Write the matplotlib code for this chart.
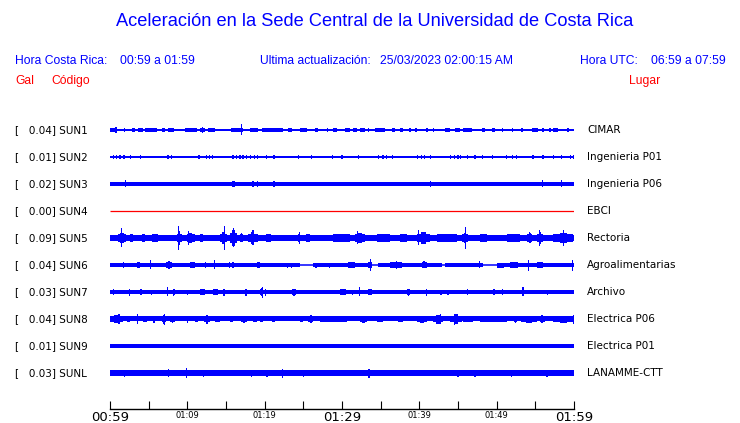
import numpy as np
import matplotlib
matplotlib.use("Agg")
import matplotlib.pyplot as plt
from matplotlib import font_manager, transforms

# station rows, top to bottom
codes = ["SUN1", "SUN2", "SUN3", "SUN4", "SUN5", "SUN6", "SUN7", "SUN8", "SUN9", "SUNL"]
places = ["CIMAR", "Ingenieria P01", "Ingenieria P06", "EBCI", "Rectoria",
          "Agroalimentarias", "Archivo", "Electrica P06", "Electrica P01", "LANAMME-CTT"]
peaks = [0.04, 0.01, 0.02, 0.00, 0.09, 0.04, 0.03, 0.04, 0.01, 0.03]  # Gal

# background noise level of each trace (display counts)
noise = [0.7, 0.6, 2.0, 0.0, 2.8, 1.8, 2.1, 2.5, 1.6, 2.8]

# minutes after 00:59 where SUN6 drops to a bare line
quiet_sun6 = [(24.6, 26.3), (33.9, 34.7), (42.9, 43.3), (48.2, 50.0)]

# bursts: (start minute, end minute, half amplitude in counts)
sun1 = [(0.0, 0.65, 1.8), (0.78, 0.78, 3.0), (1.85, 2.0, 1.8), (2.8, 3.2, 1.8), (3.6, 4.3, 1.8),
        (4.5, 6.1, 1.8), (6.7, 7.1, 1.8), (7.5, 8.3, 1.8), (9.7, 11.2, 1.8), (11.6, 12.3, 1.8),
        (12.0, 12.0, 3.0), (12.7, 13.6, 1.8), (15.6, 17.2, 1.8), (17.0, 17.0, 5.5), (18.1, 19.1, 1.8),
        (19.7, 22.4, 1.8), (23.0, 23.5, 1.8), (24.6, 25.5, 1.8), (26.5, 26.9, 1.8), (28.0, 28.2, 1.8),
        (28.8, 29.4, 1.8), (30.4, 31.0, 1.8), (31.4, 31.9, 1.8), (32.3, 33.0, 1.8), (33.4, 33.4, 1.8),
        (34.3, 35.6, 1.8), (36.5, 36.9, 1.8), (37.5, 37.9, 1.8), (38.8, 38.8, 1.8), (39.5, 39.7, 1.8),
        (41.0, 41.0, 1.8), (41.8, 41.8, 1.8), (43.3, 44.0, 1.8), (44.6, 45.3, 1.8), (45.6, 46.8, 1.8),
        (48.1, 48.5, 1.8), (49.4, 49.8, 1.8), (50.8, 50.8, 1.8), (52.1, 52.1, 1.8), (53.2, 53.4, 1.8),
        (54.6, 55.3, 1.8), (56.0, 56.0, 1.8), (56.9, 56.9, 1.8), (57.3, 57.9, 1.8), (59.1, 59.3, 1.8)]
sun2_times = [0.4, 0.8, 1.3, 1.7, 1.9, 2.6, 3.9, 7.5, 8.0, 11.4, 11.6, 12.5, 12.9, 13.3, 15.9,
              16.4, 16.8, 17.2, 17.6, 18.2, 18.7, 19.1, 20.2, 21.1, 21.3, 24.4, 26.1, 28.8, 29.9,
              30.0, 32.1, 34.7, 35.2, 35.3, 35.8, 36.5, 39.8, 40.3, 40.7, 41.4, 44.0, 44.6, 45.0,
              45.3, 46.2, 47.2, 48.2, 49.5, 51.3, 52.1, 52.6, 54.7, 56.0, 57.3, 58.4, 59.5, 59.9]
sun2 = [(t, t, 1.8) for t in sun2_times]
sun3 = [(2.0, 2.0, 3.5), (15.8, 16.1, 2.8), (18.4, 18.6, 2.8), (19.0, 19.2, 3.0), (21.2, 21.2, 3.0),
        (41.4, 41.4, 2.8), (55.9, 55.9, 3.5), (58.4, 58.4, 3.5)]
sun4 = []
sun5 = [(1.0, 2.1, 5), (1.5, 1.5, 9.5), (2.6, 3.0, 3.5), (4.1, 4.5, 4), (5.4, 6.2, 4), (8.6, 9.3, 7),
        (8.9, 8.9, 12), (9.9, 11.0, 5), (10.1, 10.2, 7), (11.6, 12.0, 3.5), (14.2, 15.1, 6),
        (14.85, 14.85, 12), (15.5, 16.4, 8), (15.9, 16.0, 9.5), (16.8, 17.2, 4.5), (17.8, 19.1, 6),
        (18.4, 18.6, 7.5), (20.2, 20.8, 3.5), (24.3, 24.6, 6), (25.3, 25.8, 4), (28.8, 31.0, 3.4),
        (31.7, 33.0, 5), (31.9, 32.0, 6.5), (34.5, 36.2, 4), (37.5, 38.4, 3.4), (39.7, 41.4, 6),
        (39.8, 39.9, 7.5), (42.3, 44.9, 3.6), (45.5, 46.3, 5), (46.0, 46.0, 11), (47.8, 48.7, 3.4),
        (51.3, 53.0, 3.6), (53.9, 54.6, 5), (54.3, 54.3, 5.5), (55.2, 56.0, 6), (55.5, 55.5, 8),
        (57.3, 59.9, 5), (58.6, 58.6, 8)]
sun6 = [(1.7, 1.7, 3.3), (3.45, 3.9, 3), (5.26, 5.26, 4.5), (7.3, 8.0, 4), (10.3, 11.0, 3),
        (12.3, 12.3, 3), (13.4, 13.6, 4.5), (15.5, 15.5, 3), (15.9, 15.9, 3), (19.0, 19.4, 3),
        (23.0, 23.0, 2.5), (23.5, 23.5, 2.5), (26.5, 26.8, 2.5), (28.4, 28.4, 2.5), (30.8, 31.7, 3),
        (33.4, 33.9, 3), (33.7, 33.7, 6), (36.2, 37.8, 3), (37.0, 37.0, 4), (40.3, 40.95, 3.5),
        (47.8, 47.8, 3.5), (50.0, 50.9, 2.5), (51.7, 52.8, 3), (54.1, 54.1, 5.5), (55.2, 56.0, 3),
        (59.8, 59.8, 5.5)]
sun7 = [(0.4, 0.4, 3), (2.5, 2.5, 3.5), (3.9, 4.1, 3), (5.4, 5.4, 2.5), (7.4, 7.5, 4.5),
        (8.1, 8.4, 3.5), (10.0, 10.0, 2.5), (11.6, 12.3, 3), (13.3, 14.0, 3), (14.6, 14.9, 3.5),
        (17.5, 17.7, 3.5), (19.4, 19.8, 4), (19.7, 19.7, 5.5), (20.1, 20.1, 3.5), (23.5, 24.1, 3.5),
        (29.7, 30.5, 3), (31.4, 31.4, 2.5), (32.2, 32.3, 4.5), (33.4, 33.9, 3), (38.4, 38.8, 3.5),
        (40.9, 41.0, 3.5), (42.7, 42.9, 2.5), (43.7, 43.7, 2.5), (46.2, 46.3, 3), (49.5, 49.8, 3),
        (50.8, 50.8, 3), (53.4, 53.4, 4.5), (56.6, 56.6, 2.5)]
sun8 = [(0.0, 1.7, 3.8), (1.16, 1.16, 5), (2.2, 2.6, 3), (3.45, 3.65, 5), (4.3, 4.75, 3),
        (5.6, 5.8, 3.5), (6.7, 7.3, 4.5), (7.1, 7.1, 5.5), (7.8, 8.4, 3.5), (9.9, 10.1, 3.5),
        (11.0, 11.4, 3), (12.2, 12.9, 4.5), (13.6, 14.2, 3), (15.5, 15.9, 3), (17.0, 17.7, 3.5),
        (18.5, 19.0, 3), (19.4, 19.8, 3), (20.9, 21.3, 3), (24.6, 25.0, 3), (25.6, 26.3, 4),
        (27.2, 30.6, 3), (32.3, 33.2, 3.5), (34.5, 35.3, 3), (37.3, 37.9, 3), (39.7, 41.0, 3.5),
        (41.8, 43.1, 4.5), (42.7, 42.7, 5), (44.0, 45.5, 5), (44.6, 44.6, 5.5), (45.7, 47.0, 3),
        (47.8, 51.3, 3), (52.2, 52.6, 3.5), (53.2, 55.2, 3.5), (55.6, 56.2, 4), (57.3, 60.0, 3.5),
        (59.9, 59.9, 4.5)]
sun9 = []
sunl = [(1.9, 1.9, 3.5), (5.4, 5.4, 3), (7.6, 7.6, 4), (9.9, 9.9, 5), (12.1, 12.1, 3.5),
        (16.4, 16.4, 3), (18.3, 18.3, 3.5), (20.3, 20.3, 3.5), (22.3, 22.3, 4.5), (25.0, 25.0, 3.5),
        (30.0, 30.0, 3), (33.5, 33.5, 4.5), (39.0, 39.0, 3), (45.0, 45.0, 3.5), (47.2, 47.2, 3.5),
        (51.9, 51.9, 3.5), (56.5, 56.5, 3.5), (58.2, 58.2, 3)]
bursts = [sun1, sun2, sun3, sun4, sun5, sun6, sun7, sun8, sun9, sunl]

tick_minutes = list(range(0, 61, 5))
tick_labels = ["00:59", "", "01:09", "", "01:19", "", "01:29", "", "01:39", "", "01:49", "", "01:59"]

W, H = 740, 423
BLUE, RED = "#0000ff", "#ff0000"
GAIN = 1 / 27.0  # counts -> row spacing
names = {f.name for f in font_manager.fontManager.ttflist}
HEAD = "Liberation Sans Narrow" if "Liberation Sans Narrow" in names else "Liberation Sans"
head_scale = 1.0 if HEAD == "Liberation Sans Narrow" else 0.82

fig = plt.figure(figsize=(W / 100, H / 100), dpi=100)
fig.patch.set_facecolor("white")


def ftext(x, y, s, **kw):
    fig.text(x / W, 1 - y / H, s, **kw)


ftext(375, 22, "Aceleración en la Sede Central de la Universidad de Costa Rica",
      ha="center", va="center", color=BLUE, family=HEAD, fontsize=16 * head_scale)
hs = 10.6 * head_scale
ftext(15, 61, "Hora Costa Rica:", va="center", color=BLUE, family=HEAD, fontsize=hs)
ftext(120, 61, "00:59 a 01:59", va="center", color=BLUE, family=HEAD, fontsize=hs)
ftext(260, 61, "Ultima actualización:", va="center", color=BLUE, family=HEAD, fontsize=hs)
ftext(380, 61, "25/03/2023 02:00:15 AM", va="center", color=BLUE, family=HEAD, fontsize=hs)
ftext(580, 61, "Hora UTC:", va="center", color=BLUE, family=HEAD, fontsize=hs)
ftext(726, 61, "06:59 a 07:59", ha="right", va="center", color=BLUE, family=HEAD, fontsize=hs)
ftext(15, 81, "Gal", va="center", color=RED, family=HEAD, fontsize=hs)
ftext(51, 81, "Código", va="center", color=RED, family=HEAD, fontsize=hs)
ftext(629, 81, "Lugar", va="center", color=RED, family=HEAD, fontsize=hs)

# axes: x in minutes after 00:59, y in row index (27 px per row, row 0 at y=130)
x0, x1, y_axis, y_top = 110, 574, 409.3, 115
ax = fig.add_axes([x0 / W, (H - y_axis) / H, (x1 - x0) / W, (y_axis - y_top) / H])
ax.set_xlim(0, 60)
ax.set_ylim((y_axis - 130) / 27, (y_top - 130) / 27)
for side in ["top", "left", "right"]:
    ax.spines[side].set_visible(False)
ax.spines["bottom"].set_linewidth(1.0)
ax.set_yticks([])
ax.set_xticks(tick_minutes)
ax.set_xticklabels(tick_labels)
ax.tick_params(axis="x", direction="in", length=6, width=0.8, pad=1.5)
for i, lbl in enumerate(ax.get_xticklabels()):
    big = tick_labels[i] in ("00:59", "01:29", "01:59")
    lbl.set_fontsize(9.5 if big else 6)
    lbl.set_family("DejaVu Sans")


def block(t0, t1, half, row, col):
    w = max(t1 - t0, 0.15)
    ax.bar((t0 + t1) / 2, 2 * half, width=w, bottom=row - half, color=col,
           lw=0, antialiased=False)


for i, code in enumerate(codes):
    col = RED if peaks[i] == 0 else BLUE
    ax.hlines(i, 0, 60, color=col, lw=0.9 if col == RED else 1.1)
    # background noise band
    if noise[i] > 0:
        segs = [(0, 60)]
        if code == "SUN6":
            segs, start = [], 0
            for a, b in quiet_sun6:
                segs.append((start, a))
                start = b
            segs.append((start, 60))
        for a, b in segs:
            ax.fill_between([a, b], i - noise[i] * GAIN, i + noise[i] * GAIN,
                            color=col, lw=0, antialiased=False)
    for t0, t1, a in bursts[i]:
        d = t1 - t0
        if d < 0.3 or a <= 2.5:
            block(t0, t1, a * GAIN, i, col)
        else:
            # stepped burst: wide shoulder, narrower core
            shoulder = max(a * 0.6, noise[i] + 0.8)
            block(t0, t1, shoulder * GAIN, i, col)
            mid = (t0 + t1) / 2
            block(mid - d * 0.18, mid + d * 0.18, a * GAIN, i, col)

lab_tr = transforms.blended_transform_factory(fig.transFigure, ax.transData)
for i, code in enumerate(codes):
    ax.text(15 / W, i, f"[   {peaks[i]:.2f}] {code}", transform=lab_tr, ha="left",
            va="center", fontsize=7.5, family="DejaVu Sans", color="black", clip_on=False)
    ax.text(587 / W, i, places[i], transform=lab_tr, ha="left", va="center",
            fontsize=7.5, family="DejaVu Sans", color="black", clip_on=False)

fig.savefig("out.png", dpi=100, facecolor="white")
